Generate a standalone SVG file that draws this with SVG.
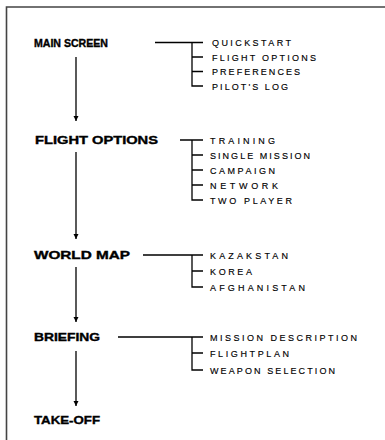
<svg xmlns="http://www.w3.org/2000/svg" width="385" height="440" viewBox="0 0 385 440">
<style>
.bg{fill:#fff}
.frame{fill:none;stroke:#444;stroke-width:1.6}
.ln{fill:none;stroke:#000;stroke-width:1.3}
.main{font-family:"Liberation Sans",Arial,sans-serif;font-weight:bold;font-size:10.5px;fill:#000;stroke:#000;stroke-width:0.35}
.sub{font-family:"Liberation Sans",Arial,sans-serif;font-size:9px;fill:#000;stroke:#000;stroke-width:0.15}
</style>
<defs>
<marker id="ah" markerWidth="6" markerHeight="7" refX="5" refY="3" orient="auto" markerUnits="userSpaceOnUse">
<path d="M0,0.5 L5,3 L0,5.5 Z" fill="#000"/>
</marker>
</defs>
<rect class="bg" x="0" y="0" width="385" height="440"/>
<path class="frame" d="M6.5,440 V7 H385"/>
<g id="connectors">
<path class="ln" d="M76,57 V121" marker-end="url(#ah)"/>
<path class="ln" d="M76,152 V239" marker-end="url(#ah)"/>
<path class="ln" d="M76,267 V322" marker-end="url(#ah)"/>
<path class="ln" d="M76,351 V406" marker-end="url(#ah)"/>
<path class="ln" d="M155,42.5 H203 M192,42.5 V86 H203 M192,57 H203 M192,71.5 H203"/>
<path class="ln" d="M180,140 H203 M192,140 V200 H203 M192,155 H203 M192,170 H203 M192,185 H203"/>
<path class="ln" d="M143,255 H203 M192,255 V287 H203 M192,271 H203"/>
<path class="ln" d="M118,337 H203 M192,337 V370 H203 M192,353 H203"/>
</g>
<g id="main-screen">
<text class="main" x="34" y="47" textLength="74" lengthAdjust="spacingAndGlyphs">MAIN SCREEN</text>
<text class="sub" x="212" y="46" textLength="79" lengthAdjust="spacing">QUICKSTART</text>
<text class="sub" x="212" y="60.5" textLength="104" lengthAdjust="spacing">FLIGHT OPTIONS</text>
<text class="sub" x="212" y="75" textLength="88" lengthAdjust="spacing">PREFERENCES</text>
<text class="sub" x="212" y="89.5" textLength="76" lengthAdjust="spacing">PILOT'S LOG</text>
</g>
<g id="flight-options">
<text class="main" x="35" y="144" textLength="123" lengthAdjust="spacingAndGlyphs">FLIGHT OPTIONS</text>
<text class="sub" x="210" y="143.5" textLength="65" lengthAdjust="spacing">TRAINING</text>
<text class="sub" x="210" y="158.5" textLength="100" lengthAdjust="spacing">SINGLE MISSION</text>
<text class="sub" x="210" y="173.5" textLength="65" lengthAdjust="spacing">CAMPAIGN</text>
<text class="sub" x="210" y="188.5" textLength="68" lengthAdjust="spacing">NETWORK</text>
<text class="sub" x="210" y="203.5" textLength="82" lengthAdjust="spacing">TWO PLAYER</text>
</g>
<g id="world-map">
<text class="main" x="34" y="259" textLength="96" lengthAdjust="spacingAndGlyphs">WORLD MAP</text>
<text class="sub" x="210" y="258.5" textLength="78" lengthAdjust="spacing">KAZAKSTAN</text>
<text class="sub" x="210" y="274.5" textLength="42" lengthAdjust="spacing">KOREA</text>
<text class="sub" x="210" y="290.5" textLength="95" lengthAdjust="spacing">AFGHANISTAN</text>
</g>
<g id="briefing">
<text class="main" x="34" y="341" textLength="66" lengthAdjust="spacingAndGlyphs">BRIEFING</text>
<text class="sub" x="210" y="340.5" textLength="147" lengthAdjust="spacing">MISSION DESCRIPTION</text>
<text class="sub" x="210" y="356.5" textLength="79" lengthAdjust="spacing">FLIGHTPLAN</text>
<text class="sub" x="210" y="373.5" textLength="125" lengthAdjust="spacing">WEAPON SELECTION</text>
</g>
<g id="take-off">
<text class="main" x="34" y="424" textLength="66" lengthAdjust="spacingAndGlyphs">TAKE-OFF</text>
</g>
</svg>
